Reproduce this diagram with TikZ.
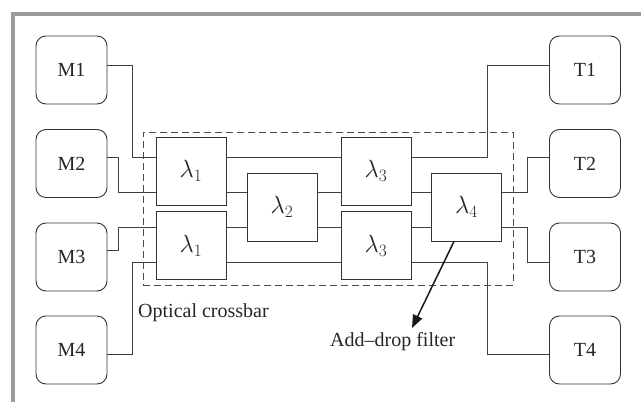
\documentclass[tikz,border=0pt]{standalone}
\usepackage{fontspec}
\setmainfont{Liberation Serif}
\usetikzlibrary{arrows.meta}
\begin{document}
\begin{tikzpicture}[x=1pt,y=-1pt,
  font=\fontsize{20}{24}\selectfont,
  term/.style={draw=black!80, line width=0.9pt, rounded corners=10pt, minimum width=71pt, minimum height=68pt, inner sep=0pt, text=black!85},
  filt/.style={draw=black!80, line width=0.9pt, minimum width=70pt, minimum height=68pt, inner sep=0pt, text=black!85, font=\fontsize{23}{26}\selectfont},
  wire/.style={draw=black!75, line width=0.95pt},
  lbl/.style={text=black!85, inner sep=0pt, anchor=base west}]
\useasboundingbox (0,0) rectangle (641,402);
\fill[white] (0,0) rectangle (641,402);
\draw[line width=4pt, color={rgb,255:red,155;green,155;blue,155}] (13,402) -- (13,14) -- (641,14);
% terminals
\node[term] (M1) at (71.5,70) {M1};
\node[term] (M2) at (71.5,163.5) {M2};
\node[term] (M3) at (71.5,257) {M3};
\node[term] (M4) at (71.5,350) {M4};
\node[term] (T1) at (585,70) {T1};
\node[term] (T2) at (585,163.5) {T2};
\node[term] (T3) at (585,257) {T3};
\node[term] (T4) at (585,350) {T4};
% crossbar
\node[draw=black!70, line width=0.9pt, dash pattern=on 7pt off 4pt, minimum width=370pt, minimum height=153pt, inner sep=0pt] (cb) at (328,208.5) {};
\node[filt] (L1a) at (191,171) {$\lambda_{1}$};
\node[filt] (L1b) at (191,245.5) {$\lambda_{1}$};
\node[filt] (L2) at (282,207) {$\lambda_{2}$};
\node[filt] (L3a) at (376,171) {$\lambda_{3}$};
\node[filt] (L3b) at (376,245.5) {$\lambda_{3}$};
\node[filt] (L4) at (466.5,207) {$\lambda_{4}$};
\coordinate (ya) at (0,157);
\coordinate (yb) at (0,192);
\coordinate (yc) at (0,227);
\coordinate (yd) at (0,262);
% wires
\draw[wire] ([yshift=5pt]M1.east) -| (132,157) -- (L1a.west|-ya);
\draw[wire] ([yshift=6.5pt]M2.east) -| (118,192) -- (L1a.west|-yb);
\draw[wire] ([yshift=7pt]M3.east) -| (118,227) -- (L1b.west|-yc);
\draw[wire] ([yshift=-4pt]M4.east) -| (132,262) -- (L1b.west|-yd);
\draw[wire] (L1a.east|-ya) -- (L3a.west|-ya);
\draw[wire] (L1a.east|-yb) -- (L2.west|-yb);
\draw[wire] (L1b.east|-yc) -- (L2.west|-yc);
\draw[wire] (L1b.east|-yd) -- (L3b.west|-yd);
\draw[wire] (L2.east|-yb) -- (L3a.west|-yb);
\draw[wire] (L2.east|-yc) -- (L3b.west|-yc);
\draw[wire] (L3a.east|-ya) -| (487,65) -- ([yshift=5pt]T1.west);
\draw[wire] (L3a.east|-yb) -- (L4.west|-yb);
\draw[wire] (L3b.east|-yc) -- (L4.west|-yc);
\draw[wire] (L3b.east|-yd) -| (487,354) -- ([yshift=-4pt]T4.west);
\draw[wire] (L4.east|-yb) -| (527,157) -- ([yshift=6.5pt]T2.west);
\draw[wire] (L4.east|-yc) -| (527,262) -- ([yshift=-5pt]T3.west);
% labels
\node[lbl] (oc) at (138,317) {Optical crossbar};
\node[lbl] (ad) at (330,346) {Add--drop filter};
\coordinate (adtip) at (412,328);
\draw[draw=black!90, line width=1.5pt, -{Triangle[length=13pt,width=10pt]}] ([xshift=-12.5pt]L4.south) -- (adtip);
\end{tikzpicture}
\end{document}
